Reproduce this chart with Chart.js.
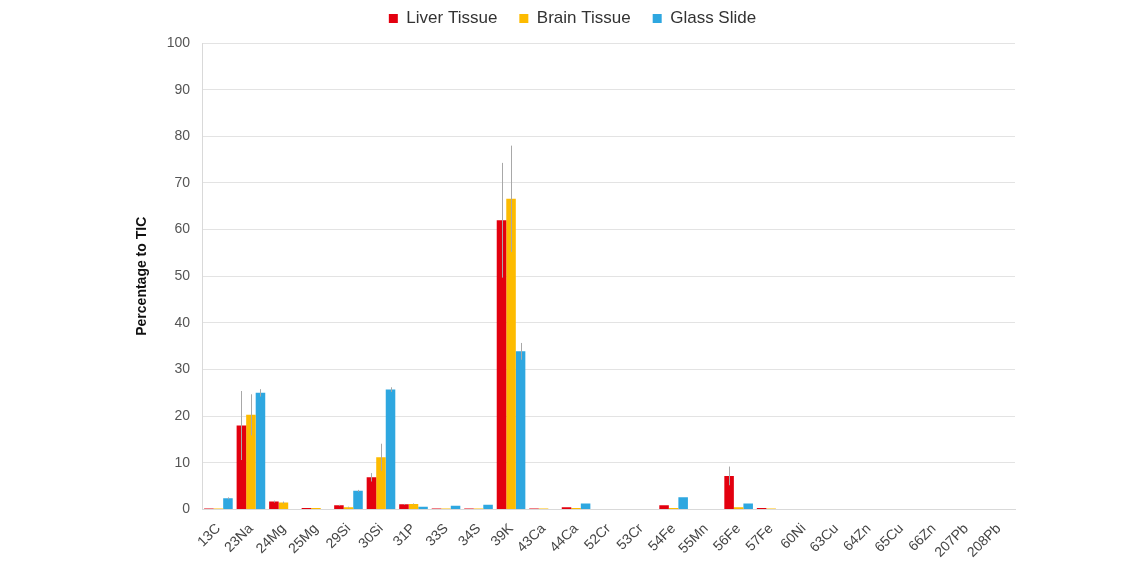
<!DOCTYPE html>
<html>
<head>
<meta charset="utf-8">
<script src="https://cdn.jsdelivr.net/npm/chart.js@4/dist/chart.umd.min.js"></script>
<style>
  html, body { margin: 0; padding: 0; background: #fff; }
  #wrap { width: 1140px; height: 572px; }
</style>
</head>
<body>
<div id="wrap"><canvas id="tic"></canvas></div>
<script>
// isotopes on the x axis
const isotopes = ['13C', '23Na', '24Mg', '25Mg', '29Si', '30Si', '31P', '33S', '34S', '39K',
  '43Ca', '44Ca', '52Cr', '53Cr', '54Fe', '55Mn', '56Fe', '57Fe', '60Ni', '63Cu',
  '64Zn', '65Cu', '66Zn', '207Pb', '208Pb'];

// percentage to TIC
const liver = [0.2, 18, 1.7, 0.3, 0.9, 6.9, 1.1, 0.2, 0.2, 62,
  0.2, 0.5, 0.1, 0.1, 0.9, 0.1, 7.2, 0.3, 0.1, 0.1,
  0.1, 0.1, 0.1, 0.1, 0.1];
const brain = [0.2, 20.3, 1.5, 0.3, 0.5, 11.2, 1.2, 0.2, 0.2, 66.6,
  0.2, 0.3, 0.1, 0.1, 0.3, 0.1, 0.5, 0.2, 0.1, 0.1,
  0.1, 0.1, 0.1, 0.1, 0.1];
const glass = [2.4, 25, 0.1, 0.1, 4, 25.7, 0.6, 0.8, 1.0, 33.9,
  0.1, 1.3, 0.1, 0.1, 2.6, 0.1, 1.3, 0.1, 0.1, 0.1,
  0.1, 0.1, 0.1, 0.1, 0.1];

// standard deviations (error bars)
const liverErr = [0, 7.4, 0.2, 0, 0.1, 0.9, 0.1, 0, 0, 12.3,
  0, 0, 0, 0, 0, 0, 2, 0, 0, 0, 0, 0, 0, 0, 0];
const brainErr = [0, 4.4, 0.2, 0, 0.1, 2.9, 0.1, 0, 0, 11.4,
  0, 0, 0, 0, 0, 0, 0, 0, 0, 0, 0, 0, 0, 0, 0];
const glassErr = [0.2, 0.8, 0, 0, 0.2, 0.5, 0, 0, 0, 1.8,
  0, 0, 0, 0, 0, 0, 0, 0, 0, 0, 0, 0, 0, 0, 0];

const yTicks = [0, 10, 20, 30, 40, 50, 60, 70, 80, 90, 100];

const errorBars = {
  id: 'errorBars',
  afterDatasetsDraw(chart) {
    const ctx = chart.ctx;
    const y = chart.scales.y;
    ctx.save();
    ctx.strokeStyle = '#a8a8a8';
    ctx.lineWidth = 1;
    chart.data.datasets.forEach((ds, i) => {
      const meta = chart.getDatasetMeta(i);
      meta.data.forEach((bar, j) => {
        const e = ds.errors[j];
        if (!e) return;
        const v = ds.data[j];
        const x = Math.round(bar.x) + 0.5;
        ctx.beginPath();
        ctx.moveTo(x, y.getPixelForValue(v - e));
        ctx.lineTo(x, y.getPixelForValue(v + e));
        ctx.stroke();
      });
    });
    ctx.restore();
  }
};

// wide spacing between legend items, gap below tuned separately
const legendGap = {
  id: 'legendGap',
  beforeInit(chart) {
    const fit = chart.legend.fit;
    chart.legend.fit = function () {
      fit.bind(chart.legend)();
      this.height += 6;
    };
  }
};

new Chart(document.getElementById('tic').getContext('2d'), {
  type: 'bar',
  data: {
    labels: isotopes,
    datasets: [
      { label: 'Liver Tissue', data: liver, errors: liverErr, backgroundColor: '#e3000f' },
      { label: 'Brain Tissue', data: brain, errors: brainErr, backgroundColor: '#fdbb00' },
      { label: 'Glass Slide', data: glass, errors: glassErr, backgroundColor: '#2ea7e0' }
    ]
  },
  options: {
    responsive: true,
    maintainAspectRatio: false,
    animation: false,
    datasets: { bar: { categoryPercentage: 0.88, barPercentage: 1.0 } },
    layout: { padding: { left: 130, right: 125, top: -12, bottom: 8 } },
    plugins: {
      legend: {
        position: 'top',
        labels: {
          usePointStyle: true, pointStyle: 'rect', boxWidth: 9, boxHeight: 9,
          color: '#333', padding: 22,
          font: { family: 'Arial, "Liberation Sans", sans-serif', size: 17 }
        }
      },
      tooltip: { enabled: false }
    },
    scales: {
      x: {
        grid: { display: false },
        border: { color: '#d9d9d9' },
        ticks: {
          color: '#444', maxRotation: 45, minRotation: 45, autoSkip: false,
          font: { family: 'Arial, "Liberation Sans", sans-serif', size: 14 }
        }
      },
      y: {
        min: 0, max: 100,
        afterBuildTicks: (axis) => { axis.ticks = yTicks.map(v => ({ value: v })); },
        grid: { color: '#e3e3e3', drawTicks: false },
        border: { color: '#d9d9d9' },
        ticks: {
          color: '#555', padding: 12,
          font: { family: 'Arial, "Liberation Sans", sans-serif', size: 14 }
        },
        title: {
          display: true, text: 'Percentage to TIC', color: '#111',
          font: { family: 'Arial, "Liberation Sans", sans-serif', size: 14, weight: 'bold' }
        }
      }
    }
  },
  plugins: [errorBars, legendGap]
});
</script>
</body>
</html>
